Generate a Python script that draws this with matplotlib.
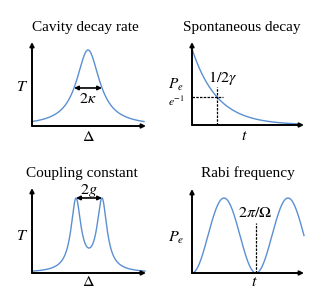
import matplotlib
matplotlib.use('Agg')
import matplotlib.pyplot as plt
import numpy as np

plt.rcParams['mathtext.fontset'] = 'stix'
plt.rcParams['font.family'] = ['Liberation Serif', 'DejaVu Serif']

# ---------------- data ----------------
titles = ["Cavity decay rate", "Spontaneous decay", "Coupling constant", "Rabi frequency"]

# Panel 1: Lorentzian transmission vs detuning
cav_center = 0.0
cav_kappa = 1.0          # half width (arrow spans 2κ)
cav_peak = 1.0
cav_span = [-4.0, 4.0]

# Panel 2: exponential decay of excited-state population
dec_tau = 1.0            # 1/2γ
dec_amp = 1.0
dec_span = [0.0, 4.3]
dec_level = np.exp(-1)   # e^-1

# Panel 3: vacuum Rabi splitting (two Lorentzians at ±g)
cpl_g = 1.0
cpl_width = 0.46
cpl_span = [-4.3, 4.3]

# Panel 4: Rabi oscillation, period 2π/Ω = 1
rabi_period = 1.0
rabi_span = [0.0, 1.75]

curve_color = '#5b8fd2'
W, H = 333, 305

fig = plt.figure(figsize=(W / 100, H / 100), dpi=100)


def add_ax(left, bottom, right, top):
    return fig.add_axes([left / W, 1 - bottom / H, (right - left) / W, (bottom - top) / H])


def ftext(x, y, s, **kw):
    kw.setdefault('ha', 'center')
    kw.setdefault('va', 'center')
    fig.text(x / W, 1 - y / H, s, **kw)


def axis_arrows(ax):
    ax.set_axis_off()
    ap = dict(arrowstyle='-|>', lw=1.4, color='black', mutation_scale=6,
              shrinkA=0, shrinkB=0)
    ax.annotate('', xy=(1, 0), xytext=(0, 0), xycoords='axes fraction', arrowprops=ap)
    ax.annotate('', xy=(0, 1), xytext=(0, 0), xycoords='axes fraction', arrowprops=ap)


dbl = dict(arrowstyle='<|-|>', lw=1.2, color='black', mutation_scale=6, shrinkA=0, shrinkB=0)
LBL = 11.5
TTL = 11

# ---------------- panel 1 ----------------
ax1 = add_ax(32, 126, 146, 42)
x = np.linspace(cav_span[0], cav_span[1], 400)
y = cav_peak / (1 + ((x - cav_center) / cav_kappa) ** 2)
ax1.plot(x, y, color=curve_color, lw=1.0, clip_on=False)
ax1.set_xlim(-4.0, 4.14)
ax1.set_ylim(0, 1.105)
axis_arrows(ax1)
ax1.annotate('', xy=(cav_center + cav_kappa, cav_peak / 2),
             xytext=(cav_center - cav_kappa, cav_peak / 2), arrowprops=dbl)
ax1.text(cav_center, 0.36, r'$2\kappa$', ha='center', va='center', fontsize=LBL)
ftext(85, 27, titles[0], fontsize=TTL)
ftext(22, 87, r'$T$', fontsize=LBL)
ftext(88, 137, r'$\Delta$', fontsize=LBL)

# ---------------- panel 2 ----------------
ax2 = add_ax(192, 125, 304, 42)
t = np.linspace(dec_span[0], dec_span[1], 400)
p = dec_amp * np.exp(-t / dec_tau)
ax2.plot(t, p, color=curve_color, lw=1.0, clip_on=False)
ax2.set_xlim(0, 4.48)
ax2.set_ylim(0, 1.09)
axis_arrows(ax2)
ax2.plot([dec_tau, dec_tau], [0, 0.5], color='black', lw=0.9, ls=(0, (2, 1)))
ax2.plot([0, 1.24], [dec_level, dec_level], color='black', lw=0.9, ls=(0, (2, 1)))
ax2.text(1.24, 0.62, r'$1/2\gamma$', ha='center', va='center', fontsize=LBL)
ftext(242, 27, titles[1], fontsize=TTL)
ftext(176, 85, r'$P_e$', fontsize=LBL - 0.5)
ftext(176, 102, r'$e^{-1}$', fontsize=8.5)
ftext(244, 136, r'$t$', fontsize=LBL)

# ---------------- panel 3 ----------------
ax3 = add_ax(32, 273, 146, 188)
x = np.linspace(cpl_span[0], cpl_span[1], 600)
y = 1 / (1 + ((x - cpl_g) / cpl_width) ** 2) + 1 / (1 + ((x + cpl_g) / cpl_width) ** 2)
ax3.plot(x, y, color=curve_color, lw=1.0, clip_on=False)
ax3.set_xlim(-4.38, 4.38)
ax3.set_ylim(0, 1.19)
axis_arrows(ax3)
ypk = y.max()
ax3.annotate('', xy=(cpl_g, ypk), xytext=(-cpl_g, ypk), arrowprops=dbl)
ax3.text(0, 1.16, r'$2g$', ha='center', va='center', fontsize=LBL)
ftext(82, 173, titles[2], fontsize=TTL)
ftext(22, 236, r'$T$', fontsize=LBL)
ftext(88, 282, r'$\Delta$', fontsize=LBL)

# ---------------- panel 4 ----------------
ax4 = add_ax(192, 273, 304, 189)
t = np.linspace(rabi_span[0], rabi_span[1], 500)
p = np.sin(np.pi * t / rabi_period) ** 2
ax4.plot(t, p, color=curve_color, lw=1.0, clip_on=False)
ax4.set_xlim(0, 1.75)
ax4.set_ylim(0, 1.12)
axis_arrows(ax4)
ax4.plot([rabi_period, rabi_period], [0, 0.667], color='black', lw=0.9, ls=(0, (2, 1)))
ax4.text(rabi_period - 0.02, 0.8, r'$2\pi/\Omega$', ha='center', va='center', fontsize=LBL)
ftext(248, 173, titles[3], fontsize=TTL)
ftext(176, 238, r'$P_e$', fontsize=LBL)
ftext(254, 282, r'$t$', fontsize=LBL)

fig.savefig('out.png', dpi=100, facecolor='white')
